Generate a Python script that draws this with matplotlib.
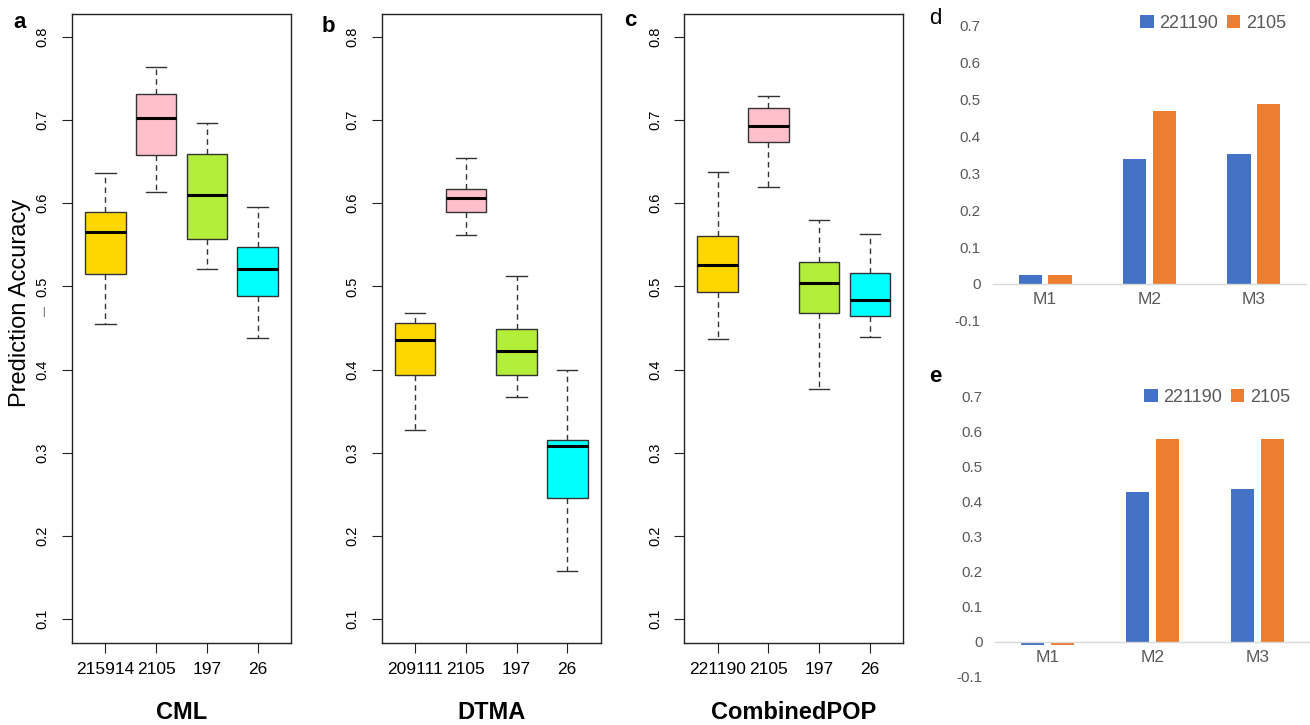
import numpy as np
import matplotlib
matplotlib.use("Agg")
import matplotlib.pyplot as plt

plt.rcParams["font.family"] = ["Liberation Sans", "DejaVu Sans"]

W, H = 1310, 725

# box stats (panels a-c)
CML_LABELS = ["215914", "2105", "197", "26"]
CML_WHISLO = [0.455, 0.613, 0.521, 0.438]
CML_Q1 = [0.515, 0.658, 0.557, 0.489]
CML_MED = [0.566, 0.703, 0.610, 0.521]
CML_Q3 = [0.589, 0.731, 0.659, 0.547]
CML_WHISHI = [0.637, 0.764, 0.697, 0.596]

DTMA_LABELS = ["209111", "2105", "197", "26"]
DTMA_WHISLO = [0.327, 0.562, 0.367, 0.158]
DTMA_Q1 = [0.394, 0.590, 0.394, 0.245]
DTMA_MED = [0.435, 0.606, 0.422, 0.308]
DTMA_Q3 = [0.456, 0.617, 0.449, 0.315]
DTMA_WHISHI = [0.468, 0.655, 0.513, 0.400]

POP_LABELS = ["221190", "2105", "197", "26"]
POP_WHISLO = [0.437, 0.619, 0.377, 0.439]
POP_Q1 = [0.493, 0.674, 0.468, 0.465]
POP_MED = [0.526, 0.693, 0.504, 0.484]
POP_Q3 = [0.561, 0.715, 0.529, 0.516]
POP_WHISHI = [0.638, 0.729, 0.580, 0.563]

BOX_COLORS = ["#FFD700", "#FFC0CB", "#B3EE3A", "#00FFFF"]

# bar panels d / e
MODELS = ["M1", "M2", "M3"]
SERIES = ["221190", "2105"]
D_221190 = [0.025, 0.338, 0.352]
D_2105 = [0.025, 0.470, 0.488]
E_221190 = [-0.009, 0.429, 0.437]
E_2105 = [-0.009, 0.580, 0.580]

BLUE = "#4472C4"
ORANGE = "#ED7D31"
GREY_TXT = "#595959"


def px_axes(fig, x0, y0, x1, y1):
    # axes placed by pixel box (top-left origin)
    return fig.add_axes([x0 / W, 1 - y1 / H, (x1 - x0) / W, (y1 - y0) / H])


def box_panel(fig, rect, labels, lo, q1, med, q3, hi, xlabel):
    ax = px_axes(fig, *rect)
    stats = [
        dict(whislo=a, q1=b, med=c, q3=d, whishi=e, fliers=[])
        for a, b, c, d, e in zip(lo, q1, med, q3, hi)
    ]
    bp = ax.bxp(
        stats,
        positions=range(1, len(stats) + 1),
        widths=0.8,
        capwidths=0.4,
        patch_artist=True,
        showfliers=False,
        boxprops=dict(edgecolor="#333333", linewidth=1.0),
        medianprops=dict(color="black", linewidth=2.2, solid_capstyle="butt"),
        whiskerprops=dict(color="#333333", linewidth=1.0, linestyle=(0, (4, 3))),
        capprops=dict(color="#333333", linewidth=1.0),
    )
    for patch, c in zip(bp["boxes"], BOX_COLORS):
        patch.set_facecolor(c)

    ax.set_xlim(0.34, 4.66)
    ax.set_ylim(0.0716, 0.8276)
    yt = np.arange(1, 9) / 10
    ax.set_yticks(yt, [f"{v:.1f}" for v in yt])
    ax.set_xticks(range(1, 5), labels)
    ax.tick_params(axis="y", labelrotation=90, length=7, pad=9, labelsize=10.5, color="#222222")
    ax.tick_params(axis="x", length=7, pad=7, labelsize=12.5, color="#222222")
    for t in ax.get_yticklabels():
        t.set_va("center")
    for s in ax.spines.values():
        s.set_linewidth(1.0)
        s.set_color("#222222")
    ax.set_xlabel(xlabel, fontsize=17, fontweight="bold", labelpad=17)
    return ax


def bar_panel(fig, rect, s1, s2, legend_xy):
    ax = px_axes(fig, *rect)
    x = np.arange(len(MODELS))
    b1 = ax.bar(x - 0.1414, s1, width=0.224, color=BLUE)
    b2 = ax.bar(x + 0.1414, s2, width=0.224, color=ORANGE)
    ax.set_xlim(-0.5, 2.5)
    ax.set_ylim(-0.1, 0.7)
    yt = np.round(np.arange(-0.1, 0.75, 0.1), 1)
    ax.set_yticks(yt, ["0" if v == 0 else f"{v:.1f}" for v in yt])
    ax.set_xticks(x, MODELS)
    for side in ("left", "right", "top"):
        ax.spines[side].set_visible(False)
    ax.spines["bottom"].set_position(("data", 0))
    ax.spines["bottom"].set_color("#D9D9D9")
    ax.spines["bottom"].set_linewidth(1.0)
    ax.tick_params(axis="y", length=0, pad=9, labelsize=11, labelcolor=GREY_TXT)
    ax.tick_params(axis="x", length=0, pad=6, labelsize=12.5, labelcolor=GREY_TXT)
    fig.legend(
        [b1, b2], SERIES,
        loc="center left",
        bbox_to_anchor=(legend_xy[0] / W, 1 - legend_xy[1] / H),
        bbox_transform=fig.transFigure,
        ncol=2, frameon=False, fontsize=13,
        handlelength=0.75, handleheight=0.75,
        handletextpad=0.3, columnspacing=0.5,
        borderpad=0, borderaxespad=0,
        labelcolor=GREY_TXT,
    )
    return ax


fig = plt.figure(figsize=(W / 100, H / 100), dpi=100)

box_panel(fig, (72, 14, 291, 642.7), CML_LABELS, CML_WHISLO, CML_Q1, CML_MED,
          CML_Q3, CML_WHISHI, "CML")
box_panel(fig, (381.7, 14, 600.7, 642.7), DTMA_LABELS, DTMA_WHISLO, DTMA_Q1,
          DTMA_MED, DTMA_Q3, DTMA_WHISHI, "DTMA")
box_panel(fig, (684.3, 14, 903.3, 642.7), POP_LABELS, POP_WHISLO, POP_Q1,
          POP_MED, POP_Q3, POP_WHISHI, "CombinedPOP")

bar_panel(fig, (993, 26, 1306, 320.7), D_221190, D_2105, (1140, 23))
bar_panel(fig, (995, 396.7, 1310, 676.7), E_221190, E_2105, (1144, 397.5))

# y label and panel letters
fig.text(20 / W, 1 - 303 / H, "Prediction Accuracy", rotation=90,
         ha="center", va="center", fontsize=17)
fig.text(43 / W, 1 - 312 / H, "|", ha="center", va="center", fontsize=7, color="#333333")
for letter, x, y, bold in [("a", 20, 22, True), ("b", 328, 26, True), ("c", 630, 21, True),
                           ("d", 935, 18, False), ("e", 935, 377, True)]:
    fig.text(x / W, 1 - y / H, letter, ha="center", va="center", fontsize=16,
             fontweight="bold" if bold else "normal")

fig.savefig("out.png", dpi=100)
